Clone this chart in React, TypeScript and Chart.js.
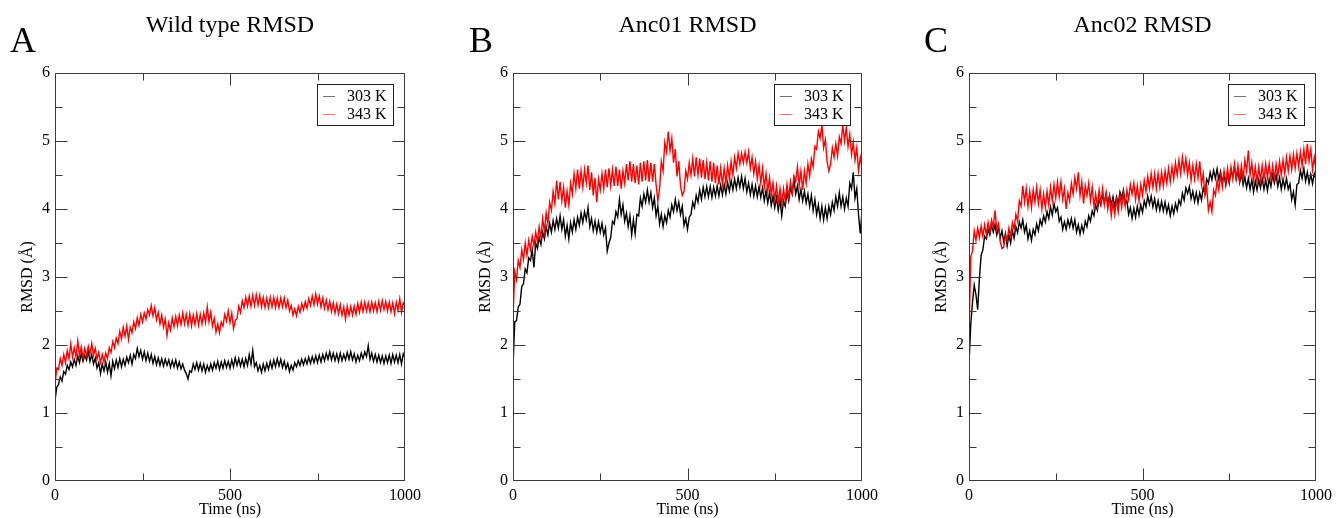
import React, { useEffect, useRef } from "react";
import { Chart, registerables } from "chart.js";

Chart.register(...registerables);

// ---------------- DATA ----------------
const TIME_START_NS = 0;
const TIME_STEP_NS = 5;

const SERIES_LABELS = ["303 K", "343 K"];
const PANEL_LETTERS = ["A", "B", "C"];
const PANEL_TITLES = ["Wild type RMSD", "Anc01 RMSD", "Anc02 RMSD"];
const X_AXIS_TITLE = "Time (ns)";
const Y_AXIS_TITLE = "RMSD (Å)";
const X_TICK_LABELS = [0, 500, 1000];
const Y_TICK_LABELS = [0, 1, 2, 3, 4, 5, 6];

const WT_303 = [
  1.18, 1.38, 1.42, 1.53, 1.47, 1.61, 1.57, 1.70, 1.64, 1.75,
  1.68, 1.79, 1.70, 1.84, 1.74, 1.87, 1.76, 1.85, 1.78, 1.90,
  1.76, 1.86, 1.72, 1.81, 1.66, 1.74, 1.58, 1.72, 1.62, 1.75,
  1.60, 1.73, 1.55, 1.76, 1.65, 1.78, 1.67, 1.80, 1.68, 1.79,
  1.70, 1.82, 1.74, 1.85, 1.72, 1.86, 1.80, 1.95, 1.83, 1.92,
  1.79, 1.90, 1.77, 1.88, 1.76, 1.86, 1.73, 1.83, 1.71, 1.81,
  1.70, 1.80, 1.69, 1.79, 1.70, 1.78, 1.67, 1.77, 1.68, 1.78,
  1.66, 1.75, 1.65, 1.72, 1.63, 1.58, 1.50, 1.62, 1.60, 1.72,
  1.64, 1.74, 1.63, 1.73, 1.62, 1.72, 1.60, 1.70, 1.62, 1.72,
  1.63, 1.74, 1.66, 1.76, 1.64, 1.75, 1.66, 1.77, 1.67, 1.76,
  1.66, 1.78, 1.68, 1.81, 1.70, 1.80, 1.69, 1.79, 1.68, 1.80,
  1.70, 1.86, 1.72, 1.92, 1.68, 1.74, 1.62, 1.70, 1.60, 1.72,
  1.62, 1.73, 1.64, 1.76, 1.66, 1.78, 1.68, 1.80, 1.69, 1.79,
  1.67, 1.76, 1.65, 1.73, 1.61, 1.70, 1.63, 1.74, 1.68, 1.77,
  1.70, 1.79, 1.71, 1.80, 1.72, 1.82, 1.73, 1.83, 1.74, 1.84,
  1.74, 1.85, 1.75, 1.86, 1.77, 1.88, 1.79, 1.90, 1.78, 1.88,
  1.77, 1.87, 1.76, 1.88, 1.77, 1.86, 1.78, 1.89, 1.79, 1.90,
  1.78, 1.87, 1.75, 1.85, 1.77, 1.88, 1.80, 1.90, 1.83, 1.99,
  1.79, 1.88, 1.76, 1.86, 1.75, 1.85, 1.74, 1.84, 1.73, 1.84,
  1.74, 1.85, 1.73, 1.86, 1.75, 1.85, 1.74, 1.86, 1.72, 1.87,
  1.80,
];

const WT_343 = [
  1.42, 1.66, 1.64, 1.80, 1.70, 1.86, 1.74, 1.92, 1.80, 2.02,
  1.82, 1.96, 1.83, 2.06, 1.84, 1.97, 1.81, 1.95, 1.84, 1.98,
  1.86, 2.02, 1.85, 1.95, 1.79, 1.89, 1.74, 1.86, 1.75, 1.88,
  1.80, 1.96, 1.89, 2.05, 1.96, 2.10, 2.02, 2.20, 2.09, 2.26,
  2.13, 2.28, 2.08, 2.26, 2.18, 2.34, 2.24, 2.40, 2.29, 2.45,
  2.34, 2.47, 2.38, 2.52, 2.44, 2.58, 2.43, 2.55, 2.37, 2.48,
  2.31, 2.44, 2.26, 2.38, 2.14, 2.33, 2.22, 2.40, 2.27, 2.42,
  2.28, 2.44, 2.30, 2.47, 2.31, 2.45, 2.29, 2.46, 2.28, 2.44,
  2.30, 2.46, 2.29, 2.45, 2.31, 2.47, 2.33, 2.56, 2.34, 2.48,
  2.28, 2.39, 2.19, 2.31, 2.18, 2.34, 2.28, 2.45, 2.35, 2.50,
  2.33, 2.47, 2.24, 2.36, 2.39, 2.57, 2.48, 2.65, 2.55, 2.70,
  2.57, 2.72, 2.57, 2.73, 2.58, 2.74, 2.59, 2.73, 2.56, 2.70,
  2.55, 2.69, 2.55, 2.70, 2.56, 2.70, 2.55, 2.69, 2.55, 2.69,
  2.56, 2.69, 2.55, 2.66, 2.50, 2.58, 2.44, 2.53, 2.43, 2.57,
  2.48, 2.61, 2.52, 2.64, 2.54, 2.68, 2.58, 2.72, 2.59, 2.75,
  2.60, 2.72, 2.56, 2.69, 2.54, 2.66, 2.52, 2.64, 2.49, 2.62,
  2.47, 2.60, 2.46, 2.59, 2.44, 2.56, 2.38, 2.57, 2.44, 2.57,
  2.44, 2.57, 2.45, 2.61, 2.48, 2.63, 2.49, 2.63, 2.50, 2.62,
  2.49, 2.63, 2.50, 2.62, 2.49, 2.64, 2.51, 2.65, 2.52, 2.64,
  2.50, 2.63, 2.49, 2.62, 2.46, 2.63, 2.51, 2.68, 2.48, 2.62,
  2.58,
];

const ANC01_303 = [
  1.68, 2.34, 2.36, 2.56, 2.60, 2.86, 2.90, 3.12, 3.06, 3.28,
  3.24, 3.40, 3.14, 3.50, 3.42, 3.58, 3.48, 3.66, 3.56, 3.74,
  3.62, 3.79, 3.66, 3.83, 3.70, 3.86, 3.72, 3.90, 3.70, 3.84,
  3.60, 3.76, 3.56, 3.80, 3.66, 3.84, 3.70, 3.88, 3.76, 3.94,
  3.80, 3.96, 3.84, 4.02, 3.74, 3.86, 3.68, 3.82, 3.66, 3.81,
  3.66, 3.79, 3.62, 3.72, 3.38, 3.50, 3.58, 3.82, 3.78, 3.96,
  3.88, 4.14, 3.92, 4.06, 3.82, 3.94, 3.74, 3.90, 3.62, 3.84,
  3.64, 3.92, 3.90, 4.16, 4.04, 4.22, 4.10, 4.28, 4.10, 4.24,
  4.02, 4.16, 3.90, 4.04, 3.78, 3.92, 3.74, 3.90, 3.80, 3.98,
  3.88, 4.06, 3.96, 4.14, 3.98, 4.10, 3.92, 4.04, 3.76, 3.86,
  3.70, 3.88, 3.92, 4.10, 4.02, 4.20, 4.10, 4.28, 4.14, 4.32,
  4.18, 4.33, 4.18, 4.33, 4.17, 4.32, 4.19, 4.34, 4.19, 4.35,
  4.21, 4.36, 4.22, 4.39, 4.26, 4.42, 4.28, 4.44, 4.30, 4.46,
  4.32, 4.48, 4.30, 4.45, 4.25, 4.38, 4.21, 4.36, 4.19, 4.34,
  4.18, 4.33, 4.17, 4.31, 4.12, 4.27, 4.09, 4.24, 4.05, 4.19,
  4.02, 4.17, 3.98, 4.14, 3.90, 4.12, 4.04, 4.24, 4.12, 4.32,
  4.22, 4.44, 4.22, 4.34, 4.14, 4.29, 4.12, 4.26, 4.09, 4.22,
  4.04, 4.20, 3.98, 4.14, 3.92, 4.06, 3.86, 4.04, 3.84, 4.02,
  3.86, 4.04, 3.92, 4.10, 3.98, 4.18, 4.04, 4.24, 4.04, 4.18,
  4.00, 4.16, 4.04, 4.38, 4.30, 4.54, 4.16, 4.30, 3.92, 3.64,
  3.96,
];

const ANC01_343 = [
  2.42, 3.08, 2.96, 3.24, 3.14, 3.40, 3.26, 3.50, 3.32, 3.54,
  3.40, 3.60, 3.46, 3.66, 3.52, 3.74, 3.58, 3.86, 3.66, 3.94,
  3.78, 4.10, 3.98, 4.26, 4.08, 4.42, 4.14, 4.40, 4.12, 4.32,
  4.02, 4.26, 4.06, 4.38, 4.22, 4.52, 4.30, 4.58, 4.30, 4.56,
  4.32, 4.58, 4.38, 4.64, 4.28, 4.54, 4.20, 4.46, 4.10, 4.44,
  4.28, 4.52, 4.30, 4.58, 4.32, 4.60, 4.34, 4.58, 4.34, 4.62,
  4.34, 4.58, 4.30, 4.56, 4.38, 4.66, 4.42, 4.70, 4.40, 4.66,
  4.38, 4.64, 4.36, 4.68, 4.40, 4.70, 4.42, 4.72, 4.40, 4.68,
  4.40, 4.66, 4.36, 4.12, 4.30, 4.70, 4.56, 4.98, 4.84, 5.14,
  4.86, 5.04, 4.68, 4.88, 4.48, 4.70, 4.34, 4.20, 4.26, 4.56,
  4.44, 4.68, 4.50, 4.74, 4.48, 4.76, 4.50, 4.74, 4.46, 4.72,
  4.44, 4.68, 4.42, 4.70, 4.40, 4.68, 4.38, 4.64, 4.36, 4.60,
  4.36, 4.60, 4.38, 4.64, 4.44, 4.70, 4.50, 4.76, 4.60, 4.82,
  4.66, 4.82, 4.68, 4.84, 4.68, 4.84, 4.60, 4.76, 4.52, 4.70,
  4.44, 4.64, 4.38, 4.60, 4.32, 4.52, 4.26, 4.46, 4.20, 4.38,
  4.14, 4.34, 4.10, 4.30, 4.06, 4.30, 4.12, 4.36, 4.16, 4.40,
  4.24, 4.48, 4.40, 4.62, 4.34, 4.56, 4.28, 4.56, 4.38, 4.66,
  4.48, 4.74, 4.62, 4.92, 4.88, 5.14, 5.04, 5.24, 4.90, 5.02,
  4.70, 4.56, 4.66, 4.90, 4.76, 4.96, 4.78, 5.06, 4.96, 5.24,
  5.00, 5.20, 4.92, 5.10, 4.80, 4.98, 4.72, 4.90, 4.56, 4.76,
  4.62,
];

const ANC02_303 = [
  1.72, 2.30, 2.62, 2.88, 2.74, 2.52, 2.98, 3.32, 3.40, 3.60,
  3.56, 3.70, 3.62, 3.76, 3.66, 3.77, 3.62, 3.73, 3.58, 3.68,
  3.52, 3.64, 3.46, 3.62, 3.50, 3.68, 3.57, 3.74, 3.65, 3.81,
  3.72, 3.84, 3.66, 3.76, 3.56, 3.68, 3.54, 3.70, 3.62, 3.78,
  3.68, 3.84, 3.76, 3.90, 3.81, 3.96, 3.86, 4.03, 3.91, 4.08,
  3.96, 4.02, 3.82, 3.88, 3.70, 3.81, 3.70, 3.84, 3.74, 3.86,
  3.72, 3.84, 3.66, 3.77, 3.63, 3.76, 3.66, 3.82, 3.74, 3.90,
  3.82, 3.97, 3.90, 4.06, 3.98, 4.14, 4.06, 4.21, 4.09, 4.22,
  4.08, 4.20, 4.06, 4.18, 4.03, 4.18, 4.08, 4.25, 4.16, 4.28,
  4.08, 4.12, 3.92, 4.02, 3.86, 4.01, 3.88, 4.04, 3.91, 4.06,
  3.95, 4.12, 4.03, 4.19, 4.07, 4.19, 4.03, 4.15, 3.99, 4.12,
  3.98, 4.11, 3.97, 4.10, 3.95, 4.06, 3.90, 4.04, 3.93, 4.08,
  3.98, 4.13, 4.06, 4.23, 4.13, 4.31, 4.23, 4.33, 4.15, 4.26,
  4.11, 4.24, 4.09, 4.24, 4.13, 4.31, 4.23, 4.44, 4.38, 4.54,
  4.43, 4.57, 4.45, 4.59, 4.43, 4.55, 4.39, 4.51, 4.35, 4.50,
  4.38, 4.56, 4.48, 4.62, 4.45, 4.56, 4.39, 4.52, 4.35, 4.47,
  4.31, 4.45, 4.29, 4.43, 4.25, 4.41, 4.28, 4.43, 4.31, 4.45,
  4.29, 4.43, 4.27, 4.44, 4.33, 4.50, 4.38, 4.50, 4.33, 4.46,
  4.29, 4.44, 4.31, 4.45, 4.29, 4.37, 4.14, 4.25, 4.06, 4.36,
  4.38, 4.57, 4.45, 4.60, 4.41, 4.54, 4.38, 4.51, 4.37, 4.52,
  4.44,
];

const ANC02_343 = [
  2.14, 3.30, 3.38, 3.68, 3.54, 3.72, 3.58, 3.75, 3.60, 3.77,
  3.62, 3.80, 3.66, 3.84, 3.74, 3.98, 3.70, 3.78, 3.52, 3.42,
  3.44, 3.62, 3.54, 3.72, 3.60, 3.80, 3.70, 3.92, 3.82, 4.12,
  4.04, 4.34, 4.10, 4.30, 4.04, 4.26, 4.02, 4.28, 4.10, 4.32,
  4.08, 4.28, 4.00, 4.22, 4.02, 4.26, 4.06, 4.32, 4.12, 4.36,
  4.16, 4.40, 4.18, 4.40, 4.14, 4.30, 4.00, 4.24, 4.12, 4.38,
  4.22, 4.46, 4.30, 4.54, 4.20, 4.40, 4.08, 4.34, 4.20, 4.38,
  4.12, 4.32, 4.04, 4.22, 4.04, 4.28, 4.08, 4.30, 4.06, 4.24,
  4.00, 4.18, 3.90, 4.10, 3.92, 4.14, 3.96, 4.20, 4.02, 4.24,
  4.04, 4.28, 4.14, 4.36, 4.22, 4.38, 4.14, 4.34, 4.12, 4.36,
  4.20, 4.42, 4.26, 4.48, 4.30, 4.52, 4.32, 4.52, 4.30, 4.52,
  4.32, 4.54, 4.34, 4.56, 4.38, 4.60, 4.40, 4.62, 4.44, 4.68,
  4.50, 4.72, 4.52, 4.76, 4.56, 4.74, 4.50, 4.68, 4.42, 4.64,
  4.44, 4.66, 4.46, 4.70, 4.36, 4.52, 4.20, 4.32, 3.98, 4.10,
  3.96, 4.28, 4.20, 4.42, 4.28, 4.50, 4.32, 4.56, 4.38, 4.60,
  4.40, 4.62, 4.44, 4.66, 4.44, 4.64, 4.42, 4.64, 4.44, 4.72,
  4.56, 4.86, 4.50, 4.68, 4.42, 4.62, 4.40, 4.62, 4.42, 4.64,
  4.44, 4.66, 4.46, 4.66, 4.44, 4.64, 4.44, 4.66, 4.48, 4.70,
  4.50, 4.72, 4.52, 4.76, 4.56, 4.78, 4.58, 4.80, 4.60, 4.82,
  4.62, 4.84, 4.64, 4.88, 4.66, 4.96, 4.70, 4.88, 4.58, 4.76,
  4.58,
];

// ---------------- STYLE / LAYOUT ----------------
const SERIF = '"Liberation Serif", "DejaVu Serif", "Times New Roman", serif';
const COLOR_303 = "#000000";
const COLOR_343 = "#ff0000";
const FRAME_COLOR = "#3a3a3a";
const X_MIN = 0, X_MAX = 1000, X_MINOR = 250, X_MAJOR = 500;
const Y_MIN = 0, Y_MAX = 6, Y_MINOR = 0.5, Y_MAJOR = 1;
const PAGE_W = 1337, PAGE_H = 518;
const AREA_TOP = 73, AREA_BOTTOM = 481;

const PANELS = [
  { series: [WT_303, WT_343], canvasLeft: 0, canvasWidth: 450, areaLeft: 55, areaRight: 405, letterX: 10 },
  { series: [ANC01_303, ANC01_343], canvasLeft: 455, canvasWidth: 450, areaLeft: 513, areaRight: 862, letterX: 469 },
  { series: [ANC02_303, ANC02_343], canvasLeft: 912, canvasWidth: 425, areaLeft: 969, areaRight: 1319, letterX: 924 },
];

const toPoints = (values: number[]) =>
  values.map((y, i) => ({ x: TIME_START_NS + i * TIME_STEP_NS, y }));

const framePlugin = {
  id: "frameTicks",
  afterDatasetsDraw(chart: any) {
    const { ctx, chartArea: a, scales } = chart;
    const xs = scales.x, ys = scales.y;
    ctx.save();
    ctx.strokeStyle = FRAME_COLOR;
    ctx.lineWidth = 1;
    const L = Math.round(a.left) + 0.5;
    const R = Math.round(a.right) - 0.5;
    const T = Math.round(a.top) + 0.5;
    const B = Math.round(a.bottom) - 0.5;
    const clamp = (v: number, lo: number, hi: number) => Math.min(hi, Math.max(lo, v));
    ctx.beginPath();
    ctx.rect(L, T, R - L, B - T);
    for (let v = Y_MIN; v <= Y_MAX + 1e-9; v += Y_MINOR) {
      const major = Math.abs(v / Y_MAJOR - Math.round(v / Y_MAJOR)) < 1e-9;
      const len = major ? 12 : 7;
      const y = clamp(Math.round(ys.getPixelForValue(v)) + 0.5, T, B);
      ctx.moveTo(L, y); ctx.lineTo(L + len, y);
      ctx.moveTo(R, y); ctx.lineTo(R - len, y);
    }
    for (let v = X_MIN; v <= X_MAX + 1e-9; v += X_MINOR) {
      const major = Math.abs(v / X_MAJOR - Math.round(v / X_MAJOR)) < 1e-9;
      const len = major ? 12 : 7;
      const x = clamp(Math.round(xs.getPixelForValue(v)) + 0.5, L, R);
      ctx.moveTo(x, B); ctx.lineTo(x, B - len);
      ctx.moveTo(x, T); ctx.lineTo(x, T + len);
    }
    ctx.stroke();
    ctx.restore();
  },
};

const legendPlugin = {
  id: "boxLegend",
  afterDatasetsDraw(chart: any) {
    const { ctx, chartArea: a } = chart;
    const w = 76, h = 41;
    const left = Math.round(a.right) - 12 - w;
    const top = Math.round(a.top) + 11;
    ctx.save();
    ctx.fillStyle = "#ffffff";
    ctx.fillRect(left, top, w, h);
    ctx.strokeStyle = "#222222";
    ctx.lineWidth = 1;
    ctx.strokeRect(left + 0.5, top + 0.5, w, h);
    ctx.font = `16px ${SERIF}`;
    ctx.textBaseline = "middle";
    chart.data.datasets.forEach((ds: any, i: number) => {
      const y = top + 12 + i * 18;
      ctx.globalAlpha = 0.55;
      ctx.strokeStyle = ds.borderColor;
      ctx.beginPath();
      ctx.moveTo(left + 6, y + 0.5);
      ctx.lineTo(left + 18, y + 0.5);
      ctx.stroke();
      ctx.globalAlpha = 1;
      ctx.fillStyle = "#000";
      ctx.fillText(ds.label, left + 30, y + 1);
    });
    ctx.restore();
  },
};

function Panel({ index }: { index: number }) {
  const ref = useRef<HTMLCanvasElement | null>(null);
  const p = PANELS[index];
  useEffect(() => {
    if (!ref.current) return;
    const areaL = p.areaLeft - p.canvasLeft;
    const areaR = p.areaRight - p.canvasLeft;
    const headerPlugin = {
      id: "header",
      afterDraw(chart: any) {
        const { ctx, chartArea: a } = chart;
        ctx.save();
        ctx.fillStyle = "#000";
        ctx.textBaseline = "alphabetic";
        ctx.textAlign = "left";
        ctx.font = `36px ${SERIF}`;
        ctx.fillText(PANEL_LETTERS[index], p.letterX - p.canvasLeft, 52);
        ctx.textAlign = "center";
        ctx.font = `24px ${SERIF}`;
        ctx.fillText(PANEL_TITLES[index], (a.left + a.right) / 2, 32);
        ctx.restore();
      },
    };
    const datasets = p.series.map((vals, i) => ({
      label: SERIES_LABELS[i],
      data: toPoints(vals),
      borderColor: i === 0 ? COLOR_303 : COLOR_343,
      backgroundColor: i === 0 ? COLOR_303 : COLOR_343,
      borderWidth: 1.4,
      pointRadius: 0,
      tension: 0,
      fill: false,
      order: i === 0 ? 1 : 0,
    }));
    const chart = new Chart(ref.current, {
      type: "line",
      data: { datasets },
      options: {
        animation: false,
        responsive: false,
        devicePixelRatio: 1,
        events: [],
        layout: { padding: { left: 0, top: AREA_TOP, right: p.canvasWidth - areaR, bottom: 0 } },
        plugins: { legend: { display: false }, tooltip: { enabled: false }, title: { display: false } },
        scales: {
          x: {
            type: "linear",
            min: X_MIN,
            max: X_MAX,
            afterBuildTicks: (s: any) => { s.ticks = X_TICK_LABELS.map((v) => ({ value: v })); },
            ticks: {
              color: "#000", padding: 5, maxRotation: 0, autoSkip: false,
              font: { family: SERIF, size: 16 },
              callback: (v: any) => String(v),
            },
            grid: { display: false, drawTicks: false },
            border: { display: false },
            title: { display: true, text: X_AXIS_TITLE, color: "#000", font: { family: SERIF, size: 16, lineHeight: 1 }, padding: { top: 0, bottom: 0 } },
            afterFit: (s: any) => { s.height = PAGE_H - AREA_BOTTOM; },
          },
          y: {
            type: "linear",
            min: Y_MIN,
            max: Y_MAX,
            afterBuildTicks: (s: any) => { s.ticks = Y_TICK_LABELS.map((v) => ({ value: v })); },
            ticks: { color: "#000", padding: 5, font: { family: SERIF, size: 16 }, callback: (v: any) => String(v) },
            grid: { display: false, drawTicks: false },
            border: { display: false },
            title: { display: true, text: Y_AXIS_TITLE, color: "#000", font: { family: SERIF, size: 16, lineHeight: 1.2 }, padding: { top: areaL - 27 - 10, bottom: 0 } },
            afterFit: (s: any) => { s.width = areaL; },
          },
        },
      } as any,
      plugins: [framePlugin, legendPlugin, headerPlugin],
    });
    return () => chart.destroy();
  }, [index]);
  return (
    <canvas
      ref={ref}
      width={p.canvasWidth}
      height={PAGE_H}
      style={{ position: "absolute", left: p.canvasLeft, top: 0, width: p.canvasWidth, height: PAGE_H }}
    />
  );
}

export default function App() {
  useEffect(() => {
    document.body.style.margin = "0";
    document.body.style.background = "#fff";
  }, []);
  return (
    <div style={{ position: "relative", width: PAGE_W, height: PAGE_H, background: "#fff", overflow: "hidden" }}>
      {PANELS.map((_, i) => (
        <Panel key={i} index={i} />
      ))}
    </div>
  );
}
